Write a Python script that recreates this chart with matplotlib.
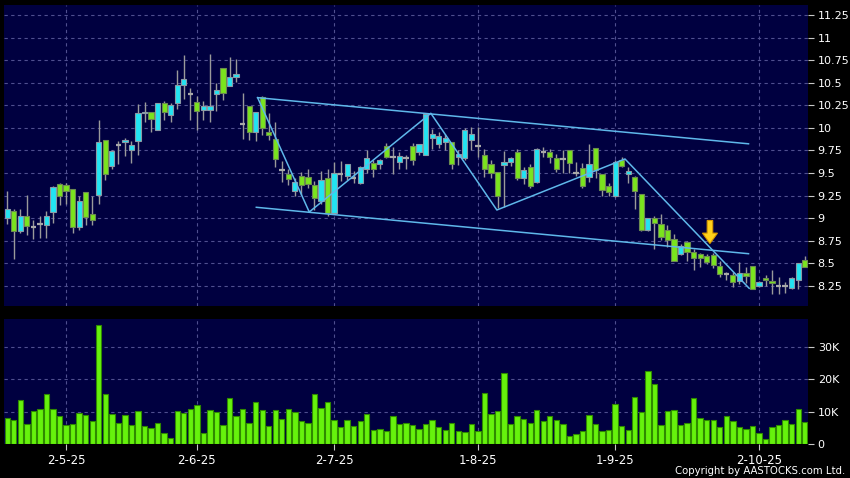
import matplotlib
matplotlib.use("Agg")
import matplotlib.pyplot as plt
from matplotlib.patches import FancyArrow
import numpy as np

# ---------------- data ----------------
opens = [9.00, 9.08, 8.86, 9.03, 8.90, 8.94, 8.93, 9.07, 9.38, 9.37,
         9.32, 8.90, 9.29, 9.05, 9.26, 9.87, 9.58, 9.81, 9.84, 9.76,
         9.86, 10.16, 10.18, 9.98, 10.28, 10.14, 10.28, 10.48, 10.37, 10.29,
         10.20, 10.20, 10.38, 10.66, 10.46, 10.56, 10.04, 10.24, 9.95, 10.34,
         9.95, 9.88, 9.53, 9.49, 9.30, 9.47, 9.46, 9.37, 9.19, 9.44,
         9.06, 9.49, 9.47, 9.44, 9.39, 9.54, 9.61, 9.60, 9.80, 9.68,
         9.62, 9.67, 9.80, 9.73, 9.70, 9.89, 9.82, 9.84, 9.84, 9.68,
         9.67, 9.87, 9.80, 9.70, 9.60, 9.51, 9.59, 9.62, 9.73, 9.45,
         9.57, 9.40, 9.73, 9.73, 9.67, 9.66, 9.76, 9.50, 9.56, 9.46,
         9.78, 9.49, 9.36, 9.25, 9.65, 9.49, 9.46, 9.27, 8.87, 9.00,
         8.94, 8.87, 8.77, 8.60, 8.74, 8.63, 8.60, 8.58, 8.59, 8.47,
         8.38, 8.37, 8.31, 8.39, 8.47, 8.25, 8.34, 8.31, 8.25, 8.25,
         8.23, 8.32, 8.54]
highs = [9.30, 9.10, 9.10, 9.26, 8.98, 9.02, 9.08, 9.36, 9.39, 9.39,
         9.32, 9.25, 9.29, 9.25, 10.09, 9.87, 9.75, 9.85, 9.89, 9.85,
         10.26, 10.29, 10.18, 10.28, 10.30, 10.28, 10.64, 10.81, 10.44, 10.35,
         10.30, 10.82, 10.50, 10.66, 10.78, 10.76, 10.39, 10.24, 10.18, 10.35,
         10.16, 10.06, 9.63, 9.55, 9.44, 9.51, 9.54, 9.41, 9.52, 9.54,
         9.62, 9.63, 9.60, 9.52, 9.58, 9.75, 9.65, 9.66, 9.83, 9.79,
         9.73, 9.70, 9.83, 9.82, 10.17, 9.99, 9.95, 9.93, 9.84, 9.76,
         10.00, 10.01, 10.01, 9.77, 9.64, 9.51, 9.74, 9.68, 9.77, 9.57,
         9.60, 9.78, 9.79, 9.77, 9.71, 9.75, 9.76, 9.62, 9.61, 9.82,
         9.78, 9.49, 9.39, 9.64, 9.68, 9.57, 9.47, 9.27, 9.00, 9.02,
         9.05, 8.92, 8.83, 8.72, 8.75, 8.66, 8.62, 8.60, 8.61, 8.53,
         8.40, 8.40, 8.52, 8.46, 8.47, 8.31, 8.37, 8.43, 8.35, 8.29,
         8.35, 8.50, 8.58]
lows = [8.94, 8.55, 8.84, 8.81, 8.77, 8.78, 8.78, 8.95, 9.15, 9.16,
        8.84, 8.87, 8.92, 8.92, 9.16, 9.42, 9.54, 9.60, 9.69, 9.61,
        9.70, 10.06, 9.96, 9.98, 10.09, 10.06, 10.21, 10.32, 10.09, 9.98,
        10.09, 10.06, 10.19, 10.31, 10.46, 10.51, 9.88, 9.87, 9.86, 9.92,
        9.87, 9.57, 9.40, 9.37, 9.25, 9.26, 9.33, 9.09, 9.16, 9.02,
        9.05, 9.41, 9.42, 9.39, 9.38, 9.50, 9.46, 9.55, 9.67, 9.49,
        9.55, 9.55, 9.59, 9.70, 9.70, 9.77, 9.78, 9.76, 9.54, 9.59,
        9.64, 9.75, 9.68, 9.46, 9.45, 9.11, 9.12, 9.58, 9.42, 9.38,
        9.33, 9.39, 9.68, 9.61, 9.51, 9.50, 9.50, 9.47, 9.33, 9.40,
        9.44, 9.25, 9.25, 9.24, 9.57, 9.39, 9.10, 8.86, 8.86, 8.66,
        8.76, 8.68, 8.53, 8.59, 8.53, 8.43, 8.46, 8.49, 8.45, 8.35,
        8.32, 8.24, 8.27, 8.28, 8.22, 8.24, 8.25, 8.16, 8.16, 8.17,
        8.22, 8.22, 8.46]
closes = [9.10, 8.86, 9.03, 8.91, 8.90, 8.94, 9.03, 9.35, 9.25, 9.30,
          8.90, 9.19, 9.01, 8.98, 9.84, 9.49, 9.74, 9.81, 9.87, 9.81,
          10.16, 10.18, 10.10, 10.28, 10.18, 10.25, 10.48, 10.54, 10.37, 10.19,
          10.24, 10.24, 10.42, 10.39, 10.56, 10.60, 10.04, 9.95, 10.18, 10.00,
          9.92, 9.66, 9.53, 9.43, 9.40, 9.37, 9.38, 9.22, 9.42, 9.06,
          9.50, 9.49, 9.60, 9.44, 9.57, 9.67, 9.55, 9.65, 9.68, 9.68,
          9.69, 9.67, 9.64, 9.82, 10.15, 9.93, 9.91, 9.89, 9.60, 9.71,
          9.98, 9.93, 9.80, 9.55, 9.50, 9.25, 9.62, 9.67, 9.45, 9.53,
          9.36, 9.77, 9.73, 9.68, 9.55, 9.66, 9.61, 9.50, 9.36, 9.60,
          9.53, 9.31, 9.29, 9.62, 9.58, 9.52, 9.30, 8.87, 9.00, 8.95,
          8.79, 8.76, 8.53, 8.69, 8.63, 8.56, 8.56, 8.52, 8.48, 8.38,
          8.38, 8.29, 8.39, 8.36, 8.22, 8.29, 8.32, 8.28, 8.25, 8.25,
          8.34, 8.50, 8.46]
volumes = [7900, 7400, 13600, 6300, 10200, 10900, 15400, 10900, 8500, 5800,
           6300, 9700, 8900, 7000, 36600, 15500, 9100, 6400, 8800, 5800,
           10300, 5400, 4800, 6600, 3500, 1900, 10200, 9500, 10900, 12100,
           3500, 10600, 10000, 6000, 14200, 8600, 10900, 6400, 12900, 10500,
           5500, 10600, 7700, 10700, 9800, 7200, 6400, 15400, 11100, 13000,
           7300, 5200, 7500, 5500, 7200, 9300, 4200, 4700, 4100, 8700,
           6300, 6600, 6000, 4500, 6200, 7300, 5300, 4300, 6600, 4100,
           3800, 6200, 4000, 15600, 9300, 10300, 21800, 6100, 8600, 7600,
           6600, 10400, 7200, 8500, 7500, 6200, 2500, 3000, 4100, 9000,
           6300, 4100, 4400, 12400, 5400, 4400, 14600, 9800, 22500, 18500,
           5700, 10300, 10500, 5900, 6600, 14200, 8100, 7400, 7500, 5300,
           8600, 7200, 5100, 4700, 5400, 3300, 1600, 5100, 5900, 7500,
           6300, 10800, 6700]

date_labels = ["2-5-25", "2-6-25", "2-7-25", "1-8-25", "1-9-25", "2-10-25"]
date_index = [9, 29, 50, 72, 93, 115]

price_ticks = [8.25, 8.5, 8.75, 9.0, 9.25, 9.5, 9.75, 10.0, 10.25, 10.5, 10.75, 11.0, 11.25]
price_labels = ["8.25", "8.5", "8.75", "9", "9.25", "9.5", "9.75", "10", "10.25", "10.5", "10.75", "11", "11.25"]
vol_ticks = [0, 10000, 20000, 30000]
vol_labels = ["0", "10K", "20K", "30K"]

# trend annotations (bar index, price)
upper_channel_x = [38.3, 113.4]
upper_channel_y = [10.335, 9.824]
lower_channel_x = [38.1, 113.4]
lower_channel_y = [9.121, 8.607]
zigzag_x = [38.3, 46.2, 64.8, 74.9, 94.5, 113.5]
zigzag_y = [10.335, 9.069, 10.162, 9.091, 9.656, 8.224]
arrow_x, arrow_top, arrow_tip = 107.5, 8.975, 8.72

# ---------------- drawing ----------------
O = np.array(opens); H = np.array(highs); L = np.array(lows); C = np.array(closes)
V = np.array(volumes)
n = len(C)
x = np.arange(n)

W, Hh = 850, 478
fig = plt.figure(figsize=(W / 100, Hh / 100), dpi=100, facecolor="black")
ax1 = fig.add_axes([4 / W, 1 - 306 / Hh, 804 / W, 301 / Hh])
ax2 = fig.add_axes([4 / W, 1 - 444 / Hh, 804 / W, 125 / Hh])

panel = "#000040"
grid_c = "#4f4f8f"
for ax in (ax1, ax2):
    ax.set_facecolor(panel)
    for s in ax.spines.values():
        s.set_visible(False)
    ax.set_xlim(-0.5, n - 0.5)
    ax.set_axisbelow(True)
    ax.grid(True, color=grid_c, linestyle=(0, (3, 3)), linewidth=0.8)
    ax.yaxis.tick_right()
    ax.tick_params(axis="y", colors="#c8c8c8", labelcolor="white", length=4,
                   width=0.8, pad=3, labelsize=8)
    ax.set_xticks(date_index)

ax1.set_ylim(8.028, 11.361)
ax1.set_yticks(price_ticks)
ax1.set_yticklabels(price_labels)
ax1.tick_params(axis="x", length=0, labelbottom=False)

ax2.set_ylim(0, 38500)
ax2.set_yticks(vol_ticks)
ax2.set_yticklabels(vol_labels)
ax2.set_xticklabels(date_labels)
ax2.tick_params(axis="x", colors="#c8c8c8", labelcolor="white", length=4,
                width=0.8, pad=3, labelsize=8.5)

# candles
up = C > O
dn = C < O
dj = C == O
ax1.vlines(x, L, H, color="#9a9a9a", linewidth=1.0, zorder=2)
ax1.bar(x[up], (C - O)[up], bottom=O[up], width=0.8, color="#22e4f2",
        edgecolor="#8a9aa6", linewidth=0.8, zorder=3)
ax1.bar(x[dn], (O - C)[dn], bottom=C[dn], width=0.8, color="#7ae41e",
        edgecolor="#6c8a52", linewidth=0.8, zorder=3)
ax1.hlines(C[dj], x[dj] - 0.42, x[dj] + 0.42, color="#a8a8a8", linewidth=1.6, zorder=3)

# trend lines
tl = dict(color="#5fb8ea", linewidth=1.1, zorder=4)
ax1.plot(upper_channel_x, upper_channel_y, **tl)
ax1.plot(lower_channel_x, lower_channel_y, **tl)
ax1.plot(zigzag_x, zigzag_y, **tl)

arr = FancyArrow(arrow_x, arrow_top, 0, arrow_tip - arrow_top, width=0.85,
                 head_width=2.3, head_length=0.115, length_includes_head=True,
                 facecolor="#ffd21a", edgecolor="#d99a00", linewidth=0.8, zorder=5)
ax1.add_patch(arr)

# volume
ax2.bar(x, V, width=0.82, color="#66f20c", edgecolor="#2f8a00", linewidth=0.8, zorder=3)

fig.text(845 / W, 1 - 471.5 / Hh, "Copyright by AASTOCKS.com Ltd.", ha="right",
         va="center", color="white", fontsize=7.3)

fig.savefig("out.png", dpi=100, facecolor="black")
